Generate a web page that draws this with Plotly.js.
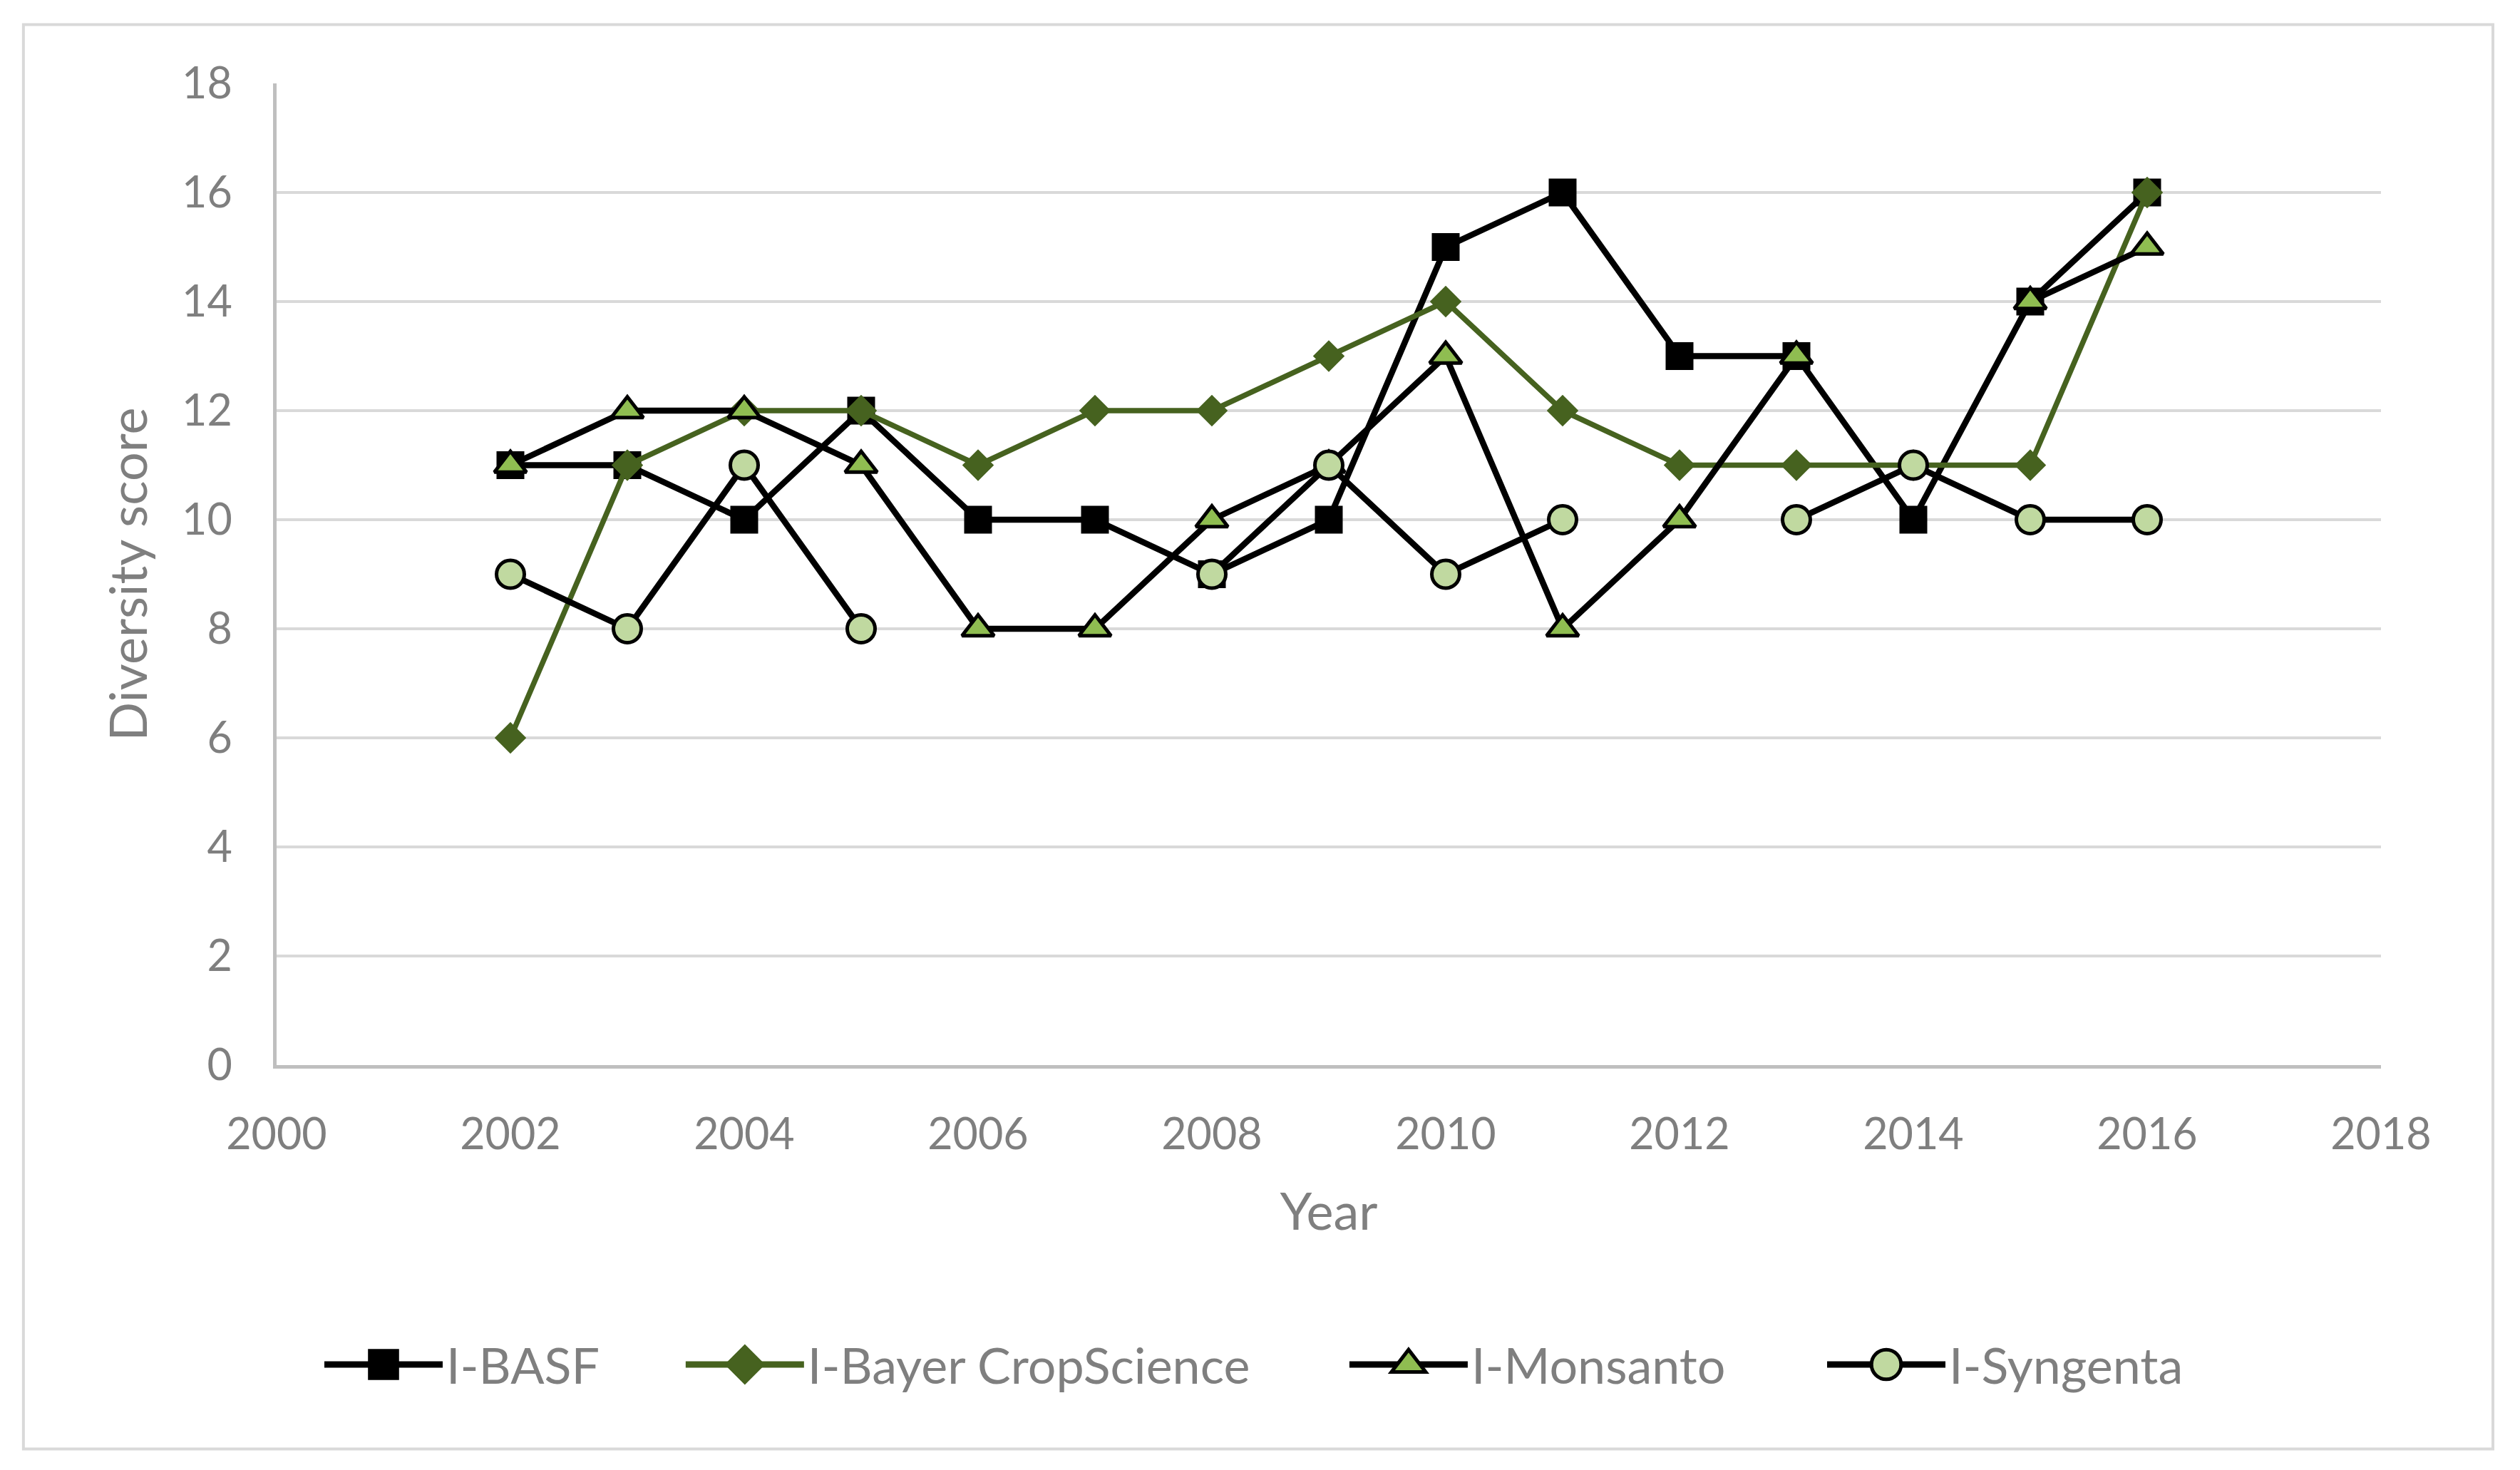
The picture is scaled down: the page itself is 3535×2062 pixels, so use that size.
<!DOCTYPE html>
<html>
<head>
<meta charset="utf-8">
<script src="https://cdn.plot.ly/plotly-3.0.1.min.js"></script>
<style>html,body{margin:0;padding:0;background:#fff;}#chart{width:3535px;height:2062px;}</style>
</head>
<body>
<div id="chart"></div>
<script>
const years = [2002, 2003, 2004, 2005, 2006, 2007, 2008, 2009, 2010, 2011, 2012, 2013, 2014, 2015, 2016];
const basf = [11, 11, 10, 12, 10, 10, 9, 10, 15, 16, 13, 13, 10, 14, 16];
const bayer = [6, 11, 12, 12, 11, 12, 12, 13, 14, 12, 11, 11, 11, 11, 16];
const monsanto = [11, 12, 12, 11, 8, 8, 10, 11, 13, 8, 10, 13, null, 14, 15];
const syngenta = [9, 8, 11, 8, null, null, 9, 11, 9, 10, null, 10, 11, 10, 10];
const seriesNames = ['I-BASF', 'I-Bayer CropScience', 'I-Monsanto', 'I-Syngenta'];
const xTicks = [2000, 2002, 2004, 2006, 2008, 2010, 2012, 2014, 2016, 2018];
const yTicks = [0, 2, 4, 6, 8, 10, 12, 14, 16, 18];

const FONT = 'Lato, "Open Sans", "DejaVu Sans", sans-serif';
const GRAY = '#7f7f7f';
const DKGREEN = '#46621f';

const traces = [
  {x: years, y: basf, name: seriesNames[0], legend: 'legend', mode: 'lines+markers', connectgaps: false,
   line: {color: '#000000', width: 8.5},
   marker: {symbol: 'square', size: 37, color: '#000000', line: {color: '#000000', width: 2}}},
  {x: years, y: bayer, name: seriesNames[1], legend: 'legend2', mode: 'lines+markers', connectgaps: false,
   line: {color: DKGREEN, width: 7.5},
   marker: {symbol: 'diamond', size: 32, color: DKGREEN, line: {color: DKGREEN, width: 2}}},
  {x: years, y: monsanto, name: seriesNames[2], legend: 'legend3', mode: 'lines+markers', connectgaps: false,
   line: {color: '#000000', width: 8.5},
   marker: {symbol: 'triangle-up', size: 39, color: '#8fbd51', line: {color: '#000000', width: 5}}},
  {x: years, y: syngenta, name: seriesNames[3], legend: 'legend4', mode: 'lines+markers', connectgaps: false,
   line: {color: '#000000', width: 8.5},
   marker: {symbol: 'circle', size: 39, color: '#c0d9a0', line: {color: '#000000', width: 5}}}
];

function legendAt(xp) {
  return {orientation: 'h', x: xp, xanchor: 'left', y: -0.305, yanchor: 'middle',
          bgcolor: 'rgba(0,0,0,0)', borderwidth: 0,
          font: {family: FONT, size: 70, color: GRAY}, itemwidth: 166};
}

const layout = {
  width: 3535, height: 2062,
  paper_bgcolor: '#ffffff', plot_bgcolor: '#ffffff',
  margin: {l: 388, r: 195, t: 117, b: 568},
  font: {family: FONT, size: 60, color: GRAY},
  showlegend: true,
  legend: legendAt(0.0210),
  legend2: legendAt(0.1927),
  legend3: legendAt(0.5081),
  legend4: legendAt(0.7351),
  xaxis: {
    range: [2000, 2018], tickmode: 'array', tickvals: xTicks, ticktext: xTicks.map(String),
    showgrid: false, zeroline: false,
    showline: true, linecolor: '#bfbfbf', linewidth: 5,
    ticks: 'outside', ticklen: 0, ticklabelstandoff: 40,
    tickfont: {family: FONT, size: 61, color: GRAY},
    title: {text: 'Year', font: {family: FONT, size: 72, color: GRAY}, standoff: 52},
    automargin: false
  },
  yaxis: {
    range: [0, 18], tickmode: 'array', tickvals: yTicks, ticktext: yTicks.map(String),
    showgrid: true, gridcolor: '#d9d9d9', gridwidth: 4, zeroline: false,
    showline: true, linecolor: '#bfbfbf', linewidth: 5,
    ticks: 'outside', ticklen: 0, ticklabelstandoff: 45,
    tickfont: {family: FONT, size: 61, color: GRAY},
    title: {text: 'Diversity score', font: {family: FONT, size: 72, color: GRAY}, standoff: 26},
    automargin: false
  },
  shapes: [
    {type: 'rect', xref: 'paper', yref: 'paper', x0: -0.1203, x1: 1.0532, y0: -0.391, y1: 1.060,
     line: {color: '#d9d9d9', width: 4}, fillcolor: 'rgba(0,0,0,0)', layer: 'below'}
  ]
};

Plotly.newPlot('chart', traces, layout, {staticPlot: true}).then(function (gd) {
  // Plotly caps legend symbol sizes; enlarge them to match the reference legend
  gd.querySelectorAll('.legendpoints .scatterpts').forEach(function (p) {
    const t = p.getAttribute('transform') || '';
    p.setAttribute('transform', t + ' scale(2.6)');
    p.style.vectorEffect = 'non-scaling-stroke';
  });
  gd.querySelectorAll('.legendlines path').forEach(function (p) {
    p.style.strokeWidth = '9px';
  });
});
</script>
</body>
</html>
